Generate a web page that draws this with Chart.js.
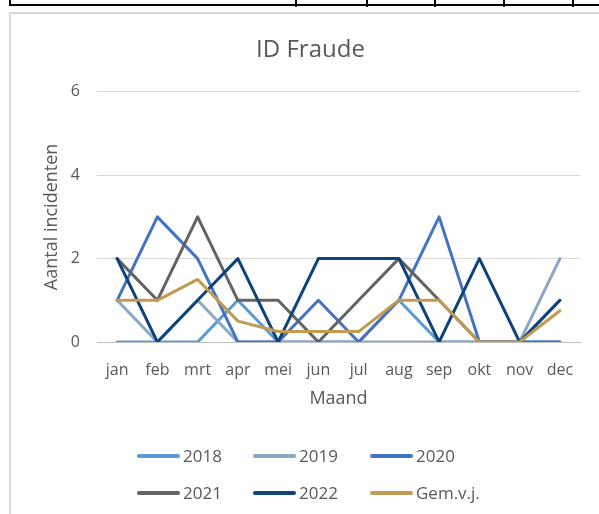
<!DOCTYPE html>
<html lang="nl">
<head>
  <meta charset="UTF-8">
  <title>ID Fraude</title>
  <script src="https://cdn.jsdelivr.net/npm/chart.js"></script>
  <style>
    body {
      margin: 0;
      background: #fff;
      width: 599px;
      height: 514px;
      overflow: hidden;
      position: relative;
    }
    .rule { position: absolute; background: #000; }
    .box {
      position: absolute;
      left: 9px; top: 12px;
      width: 620px; height: 530px;
      border: 2px solid #d9d9d9;
    }
    #wrap {
      position: absolute;
      left: 0; top: 0;
      width: 599px; height: 514px;
    }
  </style>
</head>
<body>
  <!-- stukje tabel boven de grafiek -->
  <div class="rule" style="left:9px;top:4px;width:590px;height:2px"></div>
  <div class="rule" style="left:9px;top:0;width:2px;height:6px"></div>
  <div class="rule" style="left:295px;top:0;width:2px;height:7px"></div>
  <div class="rule" style="left:366px;top:0;width:2px;height:7px"></div>
  <div class="rule" style="left:434px;top:0;width:2px;height:7px"></div>
  <div class="rule" style="left:503px;top:0;width:2px;height:7px"></div>
  <div class="rule" style="left:572px;top:0;width:2px;height:7px"></div>
  <div class="box"></div>

  <div id="wrap"><canvas id="fraudeChart"></canvas></div>

  <script>
    const maanden = ['jan', 'feb', 'mrt', 'apr', 'mei', 'jun', 'jul', 'aug', 'sep', 'okt', 'nov', 'dec'];
    const jaar2018 = [0, 0, 0, 1, 0, 0, 0, 1, 0, 0, 0, 0];
    const jaar2019 = [1, 0, 1, 0, 0, 0, 0, 0, 0, 0, 0, 2];
    const jaar2020 = [1, 3, 2, 0, 0, 1, 0, 1, 3, 0, 0, 0];
    const jaar2021 = [2, 1, 3, 1, 1, 0, 1, 2, 1, 0, 0, 1];
    const jaar2022 = [2, 0, 1, 2, 0, 2, 2, 2, 0, 2, 0, 1];
    const gemVj = [1, 1, 1.5, 0.5, 0.25, 0.25, 0.25, 1, 1, 0, 0, 0.75];
    const yTicks = [0, 2, 4, 6];

    const reeksen = [
      { label: '2018', data: jaar2018, color: '#5b9bd5' },
      { label: '2019', data: jaar2019, color: '#8aa7c6' },
      { label: '2020', data: jaar2020, color: '#4472c4' },
      { label: '2021', data: jaar2021, color: '#636363' },
      { label: '2022', data: jaar2022, color: '#0f4379' },
      { label: 'Gem.v.j.', data: gemVj, color: '#c09b50' }
    ];

    const tekst = '#595959';
    const font = '"Open Sans", sans-serif';

    // legenda zoals in Excel: 3 kolommen, 2 rijen
    const legendaPlugin = {
      id: 'legenda',
      afterDraw(chart) {
        const ctx = chart.ctx;
        const kolX = [137, 253, 370];
        const rijY = [456, 493];
        ctx.save();
        ctx.font = '17px ' + font;
        ctx.textBaseline = 'middle';
        ctx.fillStyle = tekst;
        ctx.lineWidth = 4;
        ctx.lineCap = 'round';
        chart.data.datasets.forEach((ds, i) => {
          const x = kolX[i % 3];
          const y = rijY[Math.floor(i / 3)];
          ctx.strokeStyle = ds.borderColor;
          ctx.beginPath();
          ctx.moveTo(x + 2, y);
          ctx.lineTo(x + 41, y);
          ctx.stroke();
          ctx.fillText(ds.label, x + 46, y + 1);
        });
        ctx.restore();
      }
    };

    new Chart(document.getElementById('fraudeChart'), {
      type: 'line',
      data: {
        labels: maanden,
        datasets: reeksen.map((r, i) => ({
          label: r.label,
          data: r.data,
          borderColor: r.color,
          backgroundColor: r.color,
          borderWidth: 3,
          pointRadius: 0,
          tension: 0,
          borderJoinStyle: 'round',
          borderCapStyle: 'round',
          order: reeksen.length - i
        }))
      },
      options: {
        responsive: true,
        maintainAspectRatio: false,
        animation: false,
        layout: { padding: { top: 22, left: 41, right: 19, bottom: 100 } },
        plugins: {
          legend: { display: false },
          tooltip: { enabled: false },
          title: {
            display: true,
            text: 'ID Fraude',
            color: tekst,
            font: { family: font, size: 24, weight: 'normal' },
            padding: { top: 14, bottom: 27 }
          }
        },
        scales: {
          x: {
            offset: true,
            afterFit: s => { s.height = 72; },
            grid: { display: false, drawTicks: false },
            border: { display: true, color: '#bfbfbf', width: 1 },
            ticks: {
              color: tekst,
              font: { family: font, size: 16 },
              padding: 19,
              maxRotation: 0,
              autoSkip: false
            },
            title: {
              display: true,
              text: 'Maand',
              color: tekst,
              font: { family: font, size: 18 },
              padding: { top: 11, bottom: 4 }
            }
          },
          y: {
            min: 0,
            max: 6,
            afterBuildTicks: axis => { axis.ticks = yTicks.map(v => ({ value: v })); },
            afterFit: s => { s.width = 56; },
            grid: { color: '#d9d9d9', drawTicks: false },
            border: { display: false },
            ticks: {
              color: tekst,
              font: { family: font, size: 16 },
              padding: 17
            },
            title: {
              display: true,
              text: 'Aantal incidenten',
              color: tekst,
              font: { family: font, size: 18 },
              padding: { top: 0, bottom: 8 }
            }
          }
        }
      },
      plugins: [legendaPlugin]
    });
  </script>
</body>
</html>
